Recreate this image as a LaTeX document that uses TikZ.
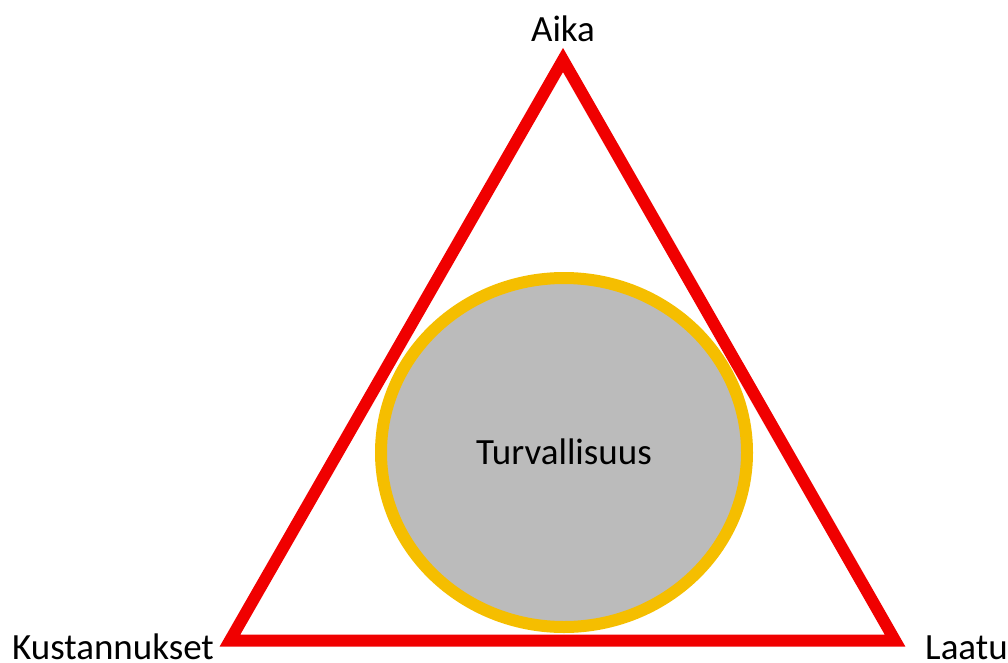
\documentclass[tikz,border=0pt]{standalone}
\usepackage{fontspec}
\setmainfont{Carlito}
\definecolor{trired}{RGB}{240,0,0}
\definecolor{ringorange}{RGB}{245,190,0}
\definecolor{fillgray}{RGB}{187,187,187}
\begin{document}
\begin{tikzpicture}[x=1pt,y=-1pt,
  lbl/.style={inner sep=0pt,font=\fontsize{37}{40}\selectfont,text=black},
  tri/.style={draw=trired,line width=12pt,miter limit=10,line join=miter},
  ring/.style={draw=ringorange,fill=fillgray,line width=12pt}]
\useasboundingbox (0,0) rectangle (1008,663);
\coordinate (top) at (563,60);
\coordinate (bl) at (230,640.5);
\coordinate (br) at (895,640.5);
\draw[tri] (top) -- (bl) -- (br) -- cycle;
\draw[ring] (564,452.5) ellipse [x radius=183, y radius=174.5];
\node[lbl,anchor=base] (turva) at (564,464) {Turvallisuus};
\node[lbl,anchor=base] (aika) at (563,42) {Aika};
\node[lbl,anchor=base west] (kust) at (12,659) {Kustannukset};
\node[lbl,anchor=base west] (laatu) at (925,659) {Laatu};
\end{tikzpicture}
\end{document}
